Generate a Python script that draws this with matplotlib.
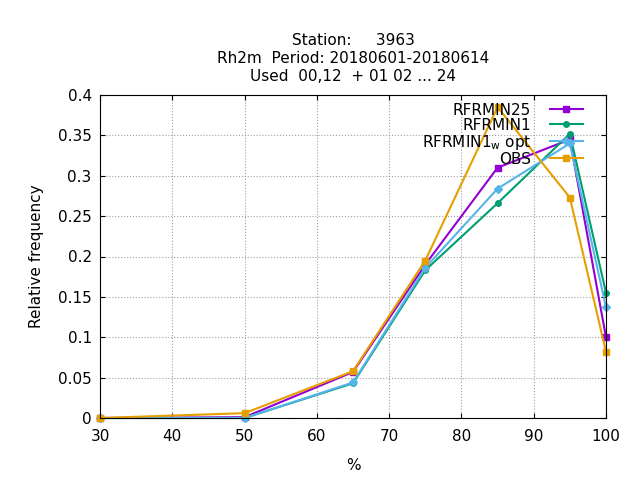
import matplotlib
matplotlib.use("Agg")
import matplotlib.pyplot as plt

x = [30, 50, 65, 75, 85, 95, 100]
rfrmin25 = [0.0, 0.001, 0.057, 0.190, 0.310, 0.345, 0.100]
rfrmin1 = [0.0, 0.0, 0.043, 0.183, 0.266, 0.352, 0.155]
rfrmin1_w = [0.0, 0.0, 0.044, 0.186, 0.284, 0.340, 0.137]
obs = [0.0, 0.006, 0.058, 0.195, 0.385, 0.273, 0.082]

labels = ["RFRMIN25", "RFRMIN1", "RFRMIN1$_{\\rm w}$ opt", "OBS"]
colors = ["#9400d3", "#009e73", "#56b4e9", "#e69f00"]
markers = ["s", "o", "D", "s"]
series = [rfrmin25, rfrmin1, rfrmin1_w, obs]

fig = plt.figure(figsize=(6.4, 4.8), dpi=100)
ax = fig.add_axes([100 / 640, 62 / 480, 506 / 640, 323 / 480])
for y, lab, c, m in zip(series, labels, colors, markers):
    ax.plot(x, y, color=c, marker=m, markersize=4, linewidth=1.5, label=lab,
            clip_on=False)

ax.set_xlim(30, 100)
ax.set_ylim(0, 0.4)
ax.set_xticks(range(30, 101, 10))
ax.set_yticks([0, 0.05, 0.1, 0.15, 0.2, 0.25, 0.3, 0.35, 0.4])
ax.set_yticklabels(["0", "0.05", "0.1", "0.15", "0.2", "0.25", "0.3", "0.35", "0.4"])
ax.tick_params(direction="in", labelsize=11, top=True, right=True)
ax.tick_params(axis="x", pad=8)
ax.tick_params(axis="y", pad=6)
ax.grid(True, color="#a0a0a0", linestyle=":", linewidth=0.8)
ax.set_xlabel("%", fontsize=11, labelpad=10)
ax.set_ylabel("Relative frequency", fontsize=11, labelpad=10)
ax.set_title("Station:     3963\nRh2m  Period: 20180601-20180614\nUsed  00,12  + 01 02 ... 24",
             fontsize=11, linespacing=1.25, pad=10)
ax.legend(loc="upper right", frameon=False, markerfirst=False, fontsize=11,
          handlelength=2.2, handletextpad=1.2, borderaxespad=0.1, labelspacing=0.0,
          bbox_to_anchor=(0.97, 1.0))
fig.savefig("out.png")
